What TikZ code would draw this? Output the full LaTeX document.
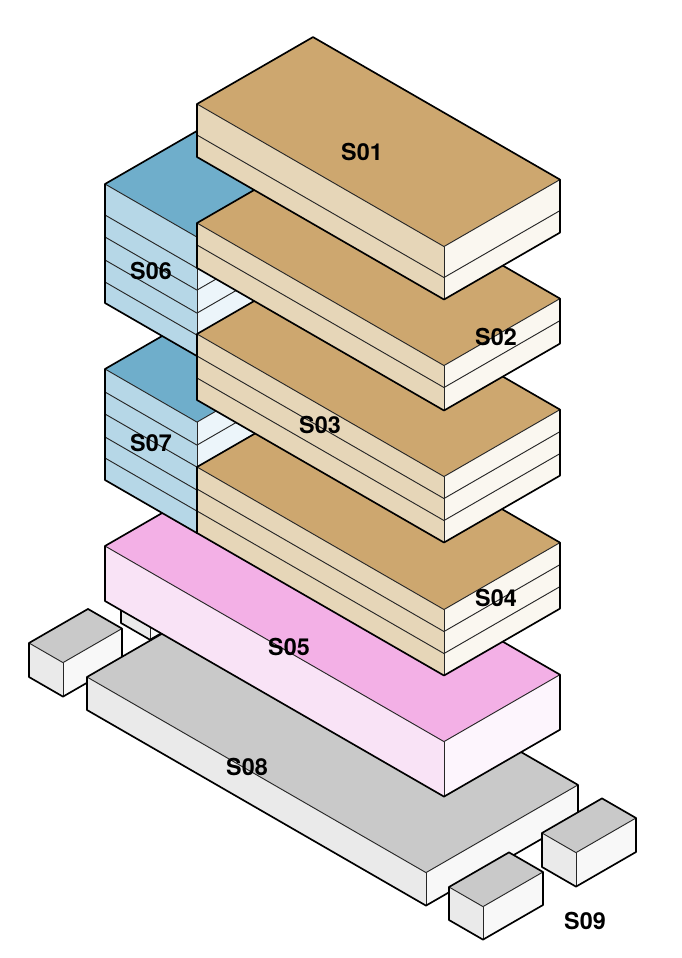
\documentclass[tikz,border=0pt]{standalone}
\usepackage{fontspec}
\setmainfont{TeX Gyre Heros}
\definecolor{SlabTop}{HTML}{CDA76F}
\definecolor{SlabLeft}{HTML}{E6D6B8}
\definecolor{SlabRight}{HTML}{FAF7F0}
\definecolor{BlueTop}{HTML}{6FAECB}
\definecolor{BlueLeft}{HTML}{B6D7E7}
\definecolor{BlueRight}{HTML}{ECF5FA}
\definecolor{PinkTop}{HTML}{F3B0E6}
\definecolor{PinkLeft}{HTML}{F9E3F6}
\definecolor{PinkRight}{HTML}{FDF5FD}
\definecolor{GreyTop}{HTML}{C9C9C9}
\definecolor{GreyLeft}{HTML}{EAEAEA}
\definecolor{GreyRight}{HTML}{F8F8F8}
% faces top/left/right, left corner x y, front run, right run, height, floor lines
\newcommand{\isoblock}[9]{%
  \coordinate (L) at (#4,#5);
  \coordinate (F) at (#4+#6,#5+0.577*#6);
  \coordinate (R) at (#4+#6+#7,#5+0.577*#6-0.577*#7);
  \coordinate (B) at (#4+#7,#5-0.577*#7);
  \fill[#1] (L) -- (F) -- (R) -- (B) -- cycle;
  \fill[#2] (L) -- (F) -- ++(0,#8) -- ++(-#6,-0.577*#6) -- cycle;
  \fill[#3] (F) -- (R) -- ++(0,#8) -- ++(-#7,0.577*#7) -- cycle;
  \foreach \d in {#9}{%
    \draw[floorline] (#4,#5+\d) -- ++(#6,0.577*#6) -- ++(#7,-0.577*#7);}
  \draw[floorline] (F) -- ++(0,#8);
  \draw[outline] (L) -- ++(0,#8) -- ++(#6,0.577*#6) -- ++(#7,-0.577*#7) -- (R) -- (B) -- cycle;
}
\tikzset{
  floorline/.style={black!85, line width=0.7pt},
  outline/.style={black, line width=1.25pt, line join=round},
  tag/.style={font=\bfseries\fontsize{17.5}{17.5}\selectfont, inner sep=0pt}
}
\begin{document}
\begin{tikzpicture}[x=0.75pt, y=-0.75pt]
  \useasboundingbox (0,0) rectangle (682,958);
  % ground level
  \isoblock{GreyTop}{GreyLeft}{GreyRight}{121}{589}{29}{59}{34}{0}
  \isoblock{GreyTop}{GreyLeft}{GreyRight}{29}{643}{34}{59}{34}{0}
  \isoblock{GreyTop}{GreyLeft}{GreyRight}{87}{677}{339}{152}{33}{0}
  \isoblock{GreyTop}{GreyLeft}{GreyRight}{449}{887}{34}{60}{33}{0}
  \isoblock{GreyTop}{GreyLeft}{GreyRight}{542}{833}{34}{60}{34}{0}
  % podium
  \isoblock{PinkTop}{PinkLeft}{PinkRight}{105}{546}{339}{116}{55}{0}
  % blue towers
  \isoblock{BlueTop}{BlueLeft}{BlueRight}{105}{369}{92}{103}{111}{0,23,45,68,89}
  \isoblock{BlueTop}{BlueLeft}{BlueRight}{105}{184}{92}{103}{119}{0,31,53,76,98}
  % slabs, bottom to top
  \isoblock{SlabTop}{SlabLeft}{SlabRight}{197}{467}{247}{116}{66}{0,22,44}
  \isoblock{SlabTop}{SlabLeft}{SlabRight}{197}{334}{247}{116}{66}{0,22,44}
  \isoblock{SlabTop}{SlabLeft}{SlabRight}{197}{223}{247}{116}{45}{0,22}
  \isoblock{SlabTop}{SlabLeft}{SlabRight}{197}{104}{247}{116}{53}{0,31}
  % labels
  \node[tag] (s01) at (362,152) {S01};
  \node[tag] (s02) at (496,337) {S02};
  \node[tag] (s03) at (320,425) {S03};
  \node[tag] (s04) at (496,598) {S04};
  \node[tag] (s05) at (289,647) {S05};
  \node[tag] (s06) at (151,271) {S06};
  \node[tag] (s07) at (151,443) {S07};
  \node[tag] (s08) at (247,767) {S08};
  \node[tag] (s09) at (585,921) {S09};
\end{tikzpicture}
\end{document}
